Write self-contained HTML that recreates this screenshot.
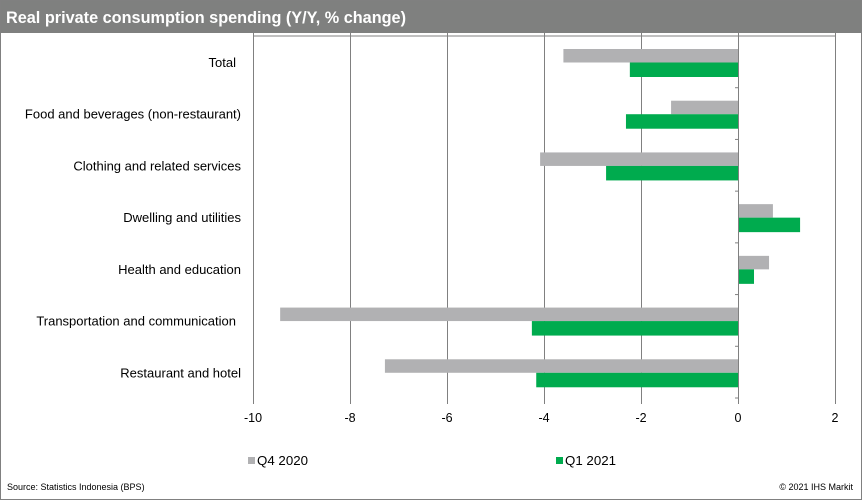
<!DOCTYPE html>
<html><head><meta charset="utf-8"><style>
body{margin:0;width:862px;height:500px;overflow:hidden;background:#fff;font-family:"Liberation Sans",Arial,sans-serif}
#wrap{position:absolute;left:0;top:0;width:860px;height:498px;border:1px solid #808080}
#title{position:absolute;left:0;top:0;width:860px;height:32px;background:#7f807f}
</style></head><body>
<div id="wrap">
<div id="title"></div>
<svg id="chart" width="862" height="500" style="position:absolute;left:-1px;top:-1px">
<text x="6" y="23" font-size="17" font-weight="bold" fill="#fff" textLength="400" lengthAdjust="spacingAndGlyphs">Real private consumption spending (Y/Y,  % change)</text>
</svg>
</div>
<script>
const categories=["Total","Food and beverages (non-restaurant)","Clothing and related services","Dwelling and utilities","Health and education","Transportation and communication","Restaurant and hotel"];
const q4Values=[-3.6,-1.38,-4.08,0.72,0.64,-9.44,-7.28];
const q1Values=[-2.23,-2.31,-2.72,1.28,0.33,-4.25,-4.16];
const xTicks=[-10,-8,-6,-4,-2,0,2];
const seriesNames=["Q4 2020","Q1 2021"];
const NS="http://www.w3.org/2000/svg";
const svg=document.getElementById('chart');
const X0=253,X1=835,XMIN=-10,XMAX=2,TOP=36,BOT=398;
const x=v=>X0+(v-XMIN)/(XMAX-XMIN)*(X1-X0);
const band=(BOT-TOP)/categories.length;
function mk(t,a){const e=document.createElementNS(NS,t);for(const k in a)e.setAttribute(k,a[k]);svg.appendChild(e);return e;}
let l=mk('line',{x1:X0,x2:X1,y1:TOP,y2:TOP,stroke:'#808080','stroke-width':1});


xTicks.forEach(t=>{
  if(t===0)return;
  const g=mk('line',{x1:x(t)+0.5,x2:x(t)+0.5,y1:33,y2:BOT+6,stroke:'#808080','stroke-width':1});
  
  
});
xTicks.forEach(t=>{
  const tx=mk('text',{x:x(t),y:BOT+24,'text-anchor':'middle','font-size':12.5,fill:'#000'});
  tx.textContent=t;
  
  
});
categories.forEach((c,i)=>{
  const y0=TOP+i*band;
  const b1=mk('rect',{x:Math.min(x(0),x(q4Values[i])),y:y0+13,width:Math.abs(x(q4Values[i])-x(0)),height:13.5,fill:'#b1b1b3'});
  
  
  const b2=mk('rect',{x:Math.min(x(0),x(q1Values[i])),y:y0+26.5,width:Math.abs(x(q1Values[i])-x(0)),height:14.5,fill:'#00ab4e'});
  
  
  const t=mk('text',{x:(i===0||i===5)?236:241,y:y0+31,'text-anchor':'end','font-size':13,fill:'#000'});
  t.textContent=c;
  
  
});
const ax=mk('line',{x1:x(0)+0.5,x2:x(0)+0.5,y1:33,y2:BOT+6,stroke:'#808080','stroke-width':1});


for(let i=1;i<=categories.length;i++){
  const tk=mk('line',{x1:x(0)-3,x2:x(0)+0.5,y1:TOP+i*band,y2:TOP+i*band,stroke:'#808080','stroke-width':1});
  
  
}
[[248,'#b1b1b3',seriesNames[0]],[556,'#00ab4e',seriesNames[1]]].forEach(([lx,col,n])=>{
  const r=mk('rect',{x:lx,y:457,width:7,height:7,fill:col});
  
  
  const t=mk('text',{x:lx+9,y:465,'font-size':13,fill:'#000',textLength:51,lengthAdjust:'spacingAndGlyphs'});
  t.textContent=n;
  
  
});
const s=mk('text',{x:7,y:490,'font-size':9,fill:'#000'});
s.textContent='Source: Statistics Indonesia (BPS)';


const c=mk('text',{x:853,y:490,'font-size':9,fill:'#000','text-anchor':'end'});
c.textContent='© 2021  IHS Markit';


</script>
</body></html>
